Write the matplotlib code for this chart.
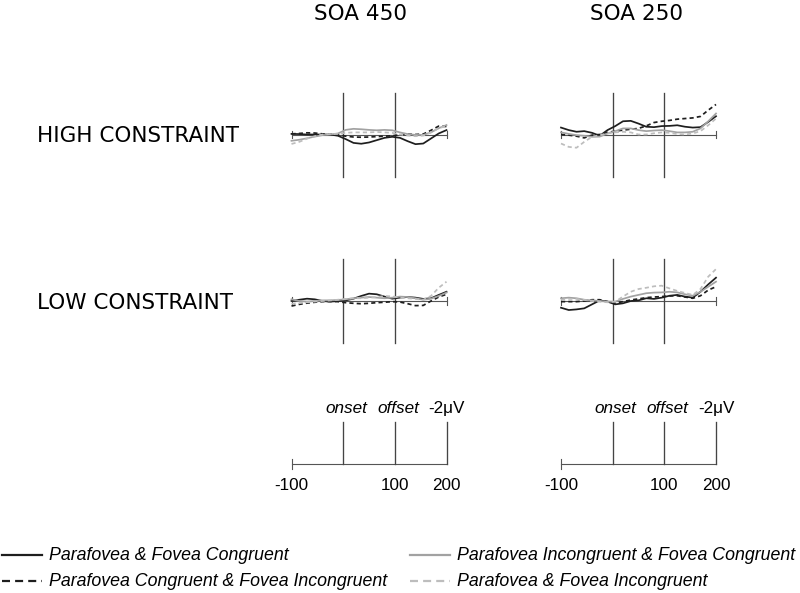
import numpy as np
import matplotlib.pyplot as plt

plt.rcParams["font.family"] = ["Liberation Sans", "DejaVu Sans"]

# time axis in ms, read every 15 ms from the waveforms
time = np.arange(-100, 201, 15)

# amplitudes in microvolts (negative is drawn upward)
# cc = Parafovea & Fovea Congruent, ci = Parafovea Congruent & Fovea Incongruent
# ic = Parafovea Incongruent & Fovea Congruent, ii = Parafovea & Fovea Incongruent
high450_cc = [-0.03, -0.02, 0.0, 0.0, 0.0, 0.0, 0.06, 0.22, 0.40, 0.44, 0.38, 0.27, 0.16, 0.11, 0.16, 0.32, 0.46, 0.43, 0.19, -0.05, -0.21]
high450_ci = [-0.03, -0.05, -0.08, -0.07, -0.03, 0.0, 0.02, 0.08, 0.12, 0.13, 0.12, 0.10, 0.08, 0.06, 0.02, -0.02, 0.0, -0.02, -0.20, -0.40, -0.38]
high450_ic = [0.30, 0.25, 0.18, 0.10, 0.03, 0.0, -0.05, -0.22, -0.27, -0.25, -0.22, -0.20, -0.22, -0.20, -0.10, -0.02, 0.02, 0.02, -0.10, -0.30, -0.45]
high450_ii = [0.45, 0.35, 0.20, 0.08, 0.0, -0.02, -0.03, -0.08, -0.10, -0.10, -0.10, -0.12, -0.10, -0.08, 0.0, 0.05, 0.08, 0.05, -0.10, -0.30, -0.40]

high250_cc = [-0.33, -0.21, -0.13, -0.16, -0.08, 0.06, -0.21, -0.40, -0.63, -0.65, -0.52, -0.37, -0.35, -0.40, -0.41, -0.44, -0.37, -0.33, -0.35, -0.60, -0.87]
high250_ci = [0.0, 0.03, 0.08, 0.16, 0.03, 0.0, -0.10, -0.16, -0.21, -0.25, -0.29, -0.41, -0.57, -0.63, -0.67, -0.73, -0.76, -0.79, -0.86, -1.16, -1.43]
high250_ic = [-0.10, -0.03, 0.03, 0.06, 0.11, 0.10, -0.05, -0.16, -0.29, -0.29, -0.21, -0.16, -0.19, -0.21, -0.16, -0.10, -0.10, -0.13, -0.29, -0.63, -1.00]
high250_ii = [0.43, 0.59, 0.63, 0.35, 0.11, 0.03, -0.05, -0.10, -0.13, -0.10, 0.0, 0.0, -0.06, -0.10, -0.08, -0.02, 0.0, -0.05, -0.16, -0.44, -0.76]

low450_cc = [0.0, -0.06, -0.11, -0.08, 0.0, 0.03, 0.0, -0.03, -0.11, -0.24, -0.35, -0.32, -0.21, -0.11, -0.16, -0.19, -0.16, -0.10, -0.13, -0.29, -0.44]
low450_ci = [0.24, 0.16, 0.10, 0.06, 0.03, 0.02, 0.03, 0.08, 0.11, 0.13, 0.11, 0.08, 0.06, 0.03, 0.05, 0.13, 0.22, 0.21, 0.0, -0.19, -0.32]
low450_ic = [-0.08, 0.0, 0.03, 0.0, -0.03, -0.03, -0.05, -0.08, -0.13, -0.16, -0.19, -0.16, -0.13, -0.16, -0.21, -0.19, -0.13, -0.06, -0.11, -0.24, -0.40]
low450_ii = [0.13, 0.10, 0.06, 0.03, 0.0, -0.03, -0.06, -0.10, -0.13, -0.13, -0.16, -0.19, -0.24, -0.22, -0.16, -0.13, -0.10, -0.06, -0.24, -0.63, -0.92]

low250_cc = [0.32, 0.43, 0.40, 0.35, 0.16, -0.03, 0.03, 0.16, 0.11, 0.0, -0.03, -0.13, -0.10, -0.16, -0.25, -0.29, -0.21, -0.16, -0.44, -0.79, -1.11]
low250_ci = [0.03, 0.03, 0.03, 0.0, -0.06, -0.06, 0.03, 0.10, 0.03, -0.05, -0.10, -0.16, -0.19, -0.21, -0.24, -0.25, -0.19, -0.13, -0.25, -0.52, -0.68]
low250_ic = [-0.13, -0.16, -0.13, -0.06, -0.03, 0.0, 0.03, 0.03, -0.10, -0.21, -0.29, -0.37, -0.40, -0.41, -0.44, -0.41, -0.32, -0.25, -0.44, -0.68, -0.92]
low250_ii = [-0.05, -0.10, -0.10, -0.05, 0.0, 0.03, 0.06, 0.03, -0.21, -0.44, -0.57, -0.63, -0.70, -0.73, -0.60, -0.48, -0.38, -0.29, -0.57, -1.16, -1.52]

conditions = [
    "Parafovea & Fovea Congruent",
    "Parafovea Congruent & Fovea Incongruent",
    "Parafovea Incongruent & Fovea Congruent",
    "Parafovea & Fovea Incongruent",
]
soa_titles = ["SOA 450", "SOA 250"]
row_titles = ["HIGH CONSTRAINT", "LOW CONSTRAINT"]

styles = [
    dict(color="#1e1e1e", lw=1.25, ls="-"),
    dict(color="#1e1e1e", lw=1.25, ls=(0, (2.4, 1.8))),
    dict(color="#a2a2a2", lw=1.25, ls="-"),
    dict(color="#bdbdbd", lw=1.25, ls=(0, (2.4, 1.8))),
]

W, H = 800, 593
fig = plt.figure(figsize=(W / 100, H / 100), dpi=100)

# overlay in pixel coordinates for titles and legend
ov = fig.add_axes([0, 0, 1, 1])
ov.set_xlim(0, W)
ov.set_ylim(H, 0)
ov.axis("off")

col_left = [291.5, 561.0]
col_center = [361, 637]
row_base = [134.5, 301.0]
scale_base = 464.0
pw, half = 155.0, 42.0


def make_axes(left, base):
    ax = fig.add_axes([left / W, (H - base - half) / H, pw / W, 2 * half / H])
    ax.set_xlim(-100, 200)
    ax.set_ylim(2, -2)
    ax.axis("off")
    return ax


line_kw = dict(color="#555555", lw=0.8, clip_on=False)
panels = [
    [[high450_cc, high450_ci, high450_ic, high450_ii], [high250_cc, high250_ci, high250_ic, high250_ii]],
    [[low450_cc, low450_ci, low450_ic, low450_ii], [low250_cc, low250_ci, low250_ic, low250_ii]],
]

for r, base in enumerate(row_base):
    for c, left in enumerate(col_left):
        ax = make_axes(left, base)
        ax.plot([-100, 200], [0, 0], **line_kw)
        for x in (-100, 200):
            ax.plot([x, x], [-0.19, 0.19], **line_kw)
        for x in (0, 100):
            ax.plot([x, x], [-2, 2], color="#444444", lw=0.95, clip_on=False)
        for vals, st in zip(panels[r][c], styles):
            ax.plot(time, vals, clip_on=False, **st)

# scale bars
for c, left in enumerate(col_left):
    ax = make_axes(left, scale_base)
    ax.plot([-100, 200], [0, 0], **line_kw)
    ax.plot([-100, -100], [-0.24, 0.24], **line_kw)
    for x in (0, 100, 200):
        ax.plot([x, x], [0, -2], color="#444444", lw=0.95, clip_on=False)
    ax.text(6, -2.45, "onset", style="italic", fontsize=12.3, ha="center", va="baseline")
    ax.text(106, -2.45, "offset", style="italic", fontsize=12.3, ha="center", va="baseline")
    ax.text(200, -2.45, "-2\u03bcV", fontsize=12.3, ha="center", va="baseline")
    for x, lab in zip([-100, 100, 200], ["-100", "100", "200"]):
        ax.text(x, 1.24, lab, fontsize=12.3, ha="center", va="baseline")

for c, t in enumerate(soa_titles):
    ov.text(col_center[c], 20, t, fontsize=15.5, family="DejaVu Sans", ha="center", va="baseline")
for r, t in enumerate(row_titles):
    ov.text(37, row_base[r] + 8, t, fontsize=15.5, family="DejaVu Sans", ha="left", va="baseline")

# legend
leg_pos = [(2, 555), (2, 581), (410, 555), (410, 581)]
leg_styles = [
    dict(color="#1e1e1e", lw=1.6, ls="-"),
    dict(color="#1e1e1e", lw=1.6, ls=(0, (3.6, 2.3))),
    dict(color="#a2a2a2", lw=1.6, ls="-"),
    dict(color="#bdbdbd", lw=1.6, ls=(0, (3.6, 2.3))),
]
for (x, y), st, lab in zip(leg_pos, leg_styles, conditions):
    ov.plot([x, x + 40], [y, y], **st)
    ov.text(x + 47, y + 4.5, lab, style="italic", fontsize=12.8, ha="left", va="baseline")

fig.savefig("out.png", dpi=100)
